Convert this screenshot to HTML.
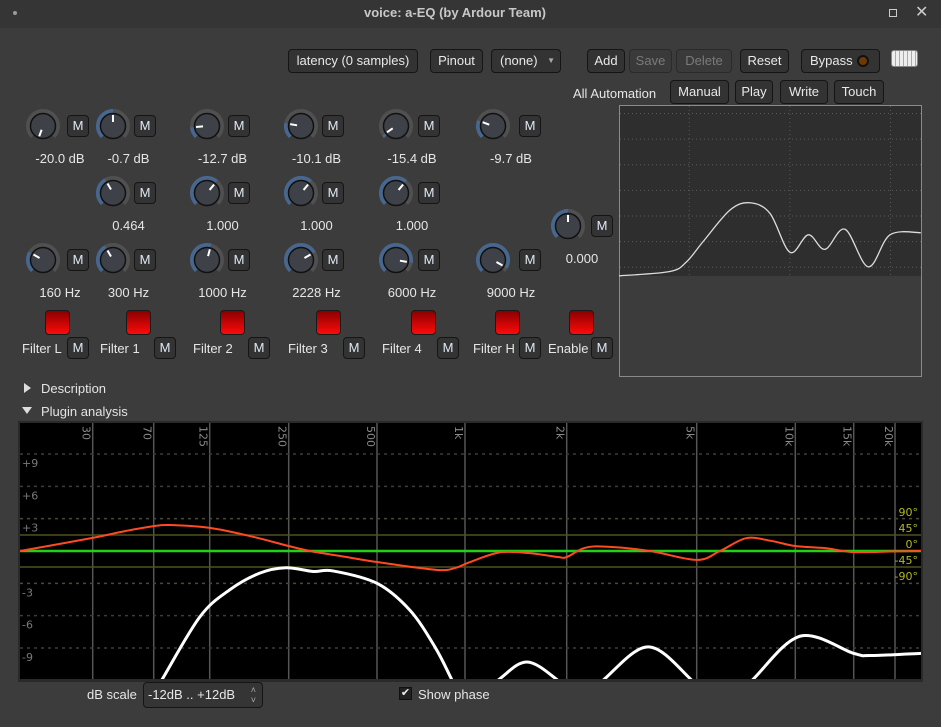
<!DOCTYPE html>
<html style="overflow:hidden"><head><meta charset="utf-8">
<style>
*{box-sizing:border-box}
html,body{overflow:hidden}
body{margin:0;width:941px;height:727px;background:#3c3c3c;font-family:"Liberation Sans","DejaVu Sans",sans-serif;font-size:13px;color:#e4e4e4;position:relative;overflow:hidden}
.abs{position:absolute}
.btn{position:absolute;background:#333;border:1px solid #151515;border-radius:4px;color:#e8e8e8;text-align:center;font-size:13px;line-height:22px;height:24px}
.btn.dis{color:#7a7a7a;border-color:#2a2a2a;background:#3a3a3a}
.m{position:absolute;width:22px;height:22px;background:#333;border:1px solid #151515;border-radius:4px;color:#dfe9f5;text-align:center;line-height:20px;font-size:13px}
.lbl{position:absolute;text-align:center;font-size:13px;line-height:16px;color:#e6e6e6;white-space:nowrap}
.red{position:absolute;width:25px;height:25px;border:1px solid #1a1a1a;border-radius:4px;background:linear-gradient(#8a0000,#ff0a0a)}
</style></head><body>
<div class="abs" style="left:0;top:0;width:941px;height:28px;background:#353535"></div>
<div class="abs" style="left:13px;top:11px;width:4px;height:4px;border-radius:2px;background:#999"></div>
<div class="abs" style="left:0;width:910px;top:5px;text-align:center;font-weight:bold;color:#c8c8c8;font-size:13px">voice: a-EQ (by Ardour Team)</div>
<div class="abs" style="left:889px;top:9px;width:8px;height:8px;border:1.5px solid #ccc"></div>
<div class="abs" style="left:915px;top:2px;font-size:16px;color:#ccc">✕</div>

<div class="btn" style="left:288px;top:49px;width:130px">latency (0 samples)</div>
<div class="btn" style="left:430px;top:49px;width:53px">Pinout</div>
<div class="btn" style="left:491px;top:49px;width:70px;text-align:left;padding-left:8px">(none)<span style="position:absolute;right:5px;top:0;font-size:8px;color:#aaa">▼</span></div>
<div class="btn" style="left:587px;top:49px;width:38px">Add</div>
<div class="btn dis" style="left:629px;top:49px;width:43px">Save</div>
<div class="btn dis" style="left:676px;top:49px;width:56px">Delete</div>
<div class="btn" style="left:740px;top:49px;width:49px">Reset</div>
<div class="btn" style="left:801px;top:49px;width:79px;text-align:left;padding-left:8px">Bypass<span style="position:absolute;left:55px;top:5px;width:12px;height:12px;border-radius:6px;background:#6a3a00;border:2px solid #111"></span></div>
<div class="abs" style="left:891px;top:50px;width:27px;height:17px;border-radius:3px;background:repeating-linear-gradient(90deg,#eee 0 3px,#aaa 3px 4px);border:1px solid #888"></div>
<div class="lbl" style="left:573px;top:86px">All Automation</div>
<div class="btn" style="left:670px;top:80px;width:59px">Manual</div>
<div class="btn" style="left:735px;top:80px;width:38px">Play</div>
<div class="btn" style="left:780px;top:80px;width:48px">Write</div>
<div class="btn" style="left:834px;top:80px;width:50px">Touch</div>

<div id="controls"></div>

<svg class="abs" style="left:619px;top:105px" width="303" height="272" id="small"></svg>

<div class="abs" style="left:24px;top:381px;line-height:16px"><span style="display:inline-block;width:0;height:0;border-left:7px solid #ddd;border-top:5px solid transparent;border-bottom:5px solid transparent;margin-right:10px;vertical-align:0"></span>Description</div>
<div class="abs" style="left:22px;top:404px;line-height:16px"><span style="display:inline-block;width:0;height:0;border-top:7px solid #ddd;border-left:5px solid transparent;border-right:5px solid transparent;margin-right:9px;vertical-align:2px"></span>Plugin analysis</div>

<svg class="abs" style="left:0;top:420px" width="941" height="262" id="big"></svg>

<div class="lbl" style="left:87px;top:687px">dB scale</div>
<div class="btn" style="left:143px;top:682px;width:120px;height:26px;line-height:24px;text-align:left;padding-left:4px;background:#353535;overflow:hidden">-12dB .. +12dB<span style="position:absolute;right:6px;top:0;font-size:9px;color:#aaa;line-height:10px;padding-top:2px">˄<br>˅</span></div>
<div class="abs" style="left:399px;top:687px;width:13px;height:13px;background:#222;border:1px solid #111;color:#eee;font-size:11px;line-height:11px;text-align:center">✔</div>
<div class="lbl" style="left:418px;top:687px">Show phase</div>

<script>
// ---- analysis chart data ----
const freqTicks = [30,70,125,250,500,1000,2000,5000,10000,15000,20000];
const freqTickLabels = ["30","70","125","250","500","1k","2k","5k","10k","15k","20k"];
const dbTicks = [9,6,3,-3,-6,-9];
const dbTickLabels = ["+9","+6","+3","-3","-6","-9"];
const phaseTicks = [90,45,0,-45,-90];
const phaseTickLabels = ["90°","45°","0°","-45°","-90°"];
const phaseFreq = [11,30,47,70,83,125,178,250,295,375,500,796,924,1035,1269,1556,1883,2000,2275,2675,3600,5000,5890,7075,8380,10000,12300,15000,20000,24000];
const phaseDeg  = [0,37,56,70,73,65,42,14,0,-14,-31,-53,-48,-31,-4,-6,-17,-17,9,12,0,-25,0,36,29,14,8,-3,-1,0];
const magFreq = [11,40,66,77,113,149,194,244,303,354,500,648,789,896,1000,1251,1523,1883,2197,2583,3548,4832,5890,7380,10350,15000,16900,24000];
const magDb   = [-40,-20,-14,-11.8,-6.1,-3.6,-2.05,-1.55,-1.9,-1.85,-3.0,-5.5,-8.9,-11.8,-14.5,-12,-10.3,-12,-14,-12,-8.9,-12,-15,-12,-7.9,-9.5,-9.7,-9.5];
// ---- preview chart data ----
const prevFreq = [20,64,94,137,254,401,634,1002,1524,2232,3527,6018,9885,20000];
const prevDb   = [-20,-19,-16.7,-12,-4.6,-2.9,-5.4,-14.5,-10.4,-13.8,-9.1,-17.9,-10.4,-9.9];

const NS="http://www.w3.org/2000/svg";
function mk(p,t,a){const e=document.createElementNS(NS,t);for(const k in a)e.setAttribute(k,a[k]);p.appendChild(e);return e;}

const fAnch=[[11,20],[30,92.7],[70,153.7],[125,209.7],[250,288.7],[500,377],[1000,465],[2000,566.7],[5000,696.7],[10000,795.3],[15000,853.7],[20000,895],[24000,921]];
function xF(f){for(let i=0;i<fAnch.length-1;i++){const a=fAnch[i],b=fAnch[i+1];if(f<=b[0]||i==fAnch.length-2){const t=Math.log(f/a[0])/Math.log(b[0]/a[0]);return a[1]+t*(b[1]-a[1]);}}}
const Y0=131;
function yDb(d){return Y0-d*32.33/3;}
function yPh(p){return Y0-p*16/45;}
function smooth(pts){let d="M"+pts[0][0]+","+pts[0][1];for(let i=0;i<pts.length-1;i++){const p0=pts[Math.max(0,i-1)],p1=pts[i],p2=pts[i+1],p3=pts[Math.min(pts.length-1,i+2)];const c1=[p1[0]+(p2[0]-p0[0])/6,p1[1]+(p2[1]-p0[1])/6],c2=[p2[0]-(p3[0]-p1[0])/6,p2[1]-(p3[1]-p1[1])/6];d+=" C"+c1.join(",")+" "+c2.join(",")+" "+p2.join(",");}return d;}

const big=document.getElementById('big');
mk(big,'rect',{x:18,y:1,width:905,height:261,fill:'#2a2a2a'});
const plot=mk(big,'rect',{x:20,y:3,width:901,height:256,fill:'#000'});


const defs=mk(big,'defs',{});const cp=mk(defs,'clipPath',{id:'clipA'});mk(cp,'rect',{x:20,y:3,width:901,height:256});
freqTicks.forEach((f,i)=>{const x=xF(f);
 const l=mk(big,'line',{x1:x,x2:x,y1:3,y2:259,stroke:'#555','stroke-width':1.5});
 
 
 const t=mk(big,'text',{x:0,y:0,transform:`translate(${x-10},6) rotate(90)`,fill:'#8a8a8a','font-size':11,'font-family':'DejaVu Sans, sans-serif'});t.textContent=freqTickLabels[i];
 
 });
dbTicks.forEach((d,i)=>{const y=yDb(d);
 const l=mk(big,'line',{x1:20,x2:921,y1:y,y2:y,stroke:(Math.abs(d)==3?'#4a4a32':'#3c3c3c'),'stroke-width':1.5,'stroke-dasharray':'3,4'});
 
 
 const t=mk(big,'text',{x:22,y:y+13,fill:'#7a7a7a','font-size':11,'font-family':'DejaVu Sans, sans-serif'});t.textContent=dbTickLabels[i];
 
 });
phaseTicks.forEach((p,i)=>{const y=yPh(p);
 if(Math.abs(p)==45){const l=mk(big,'line',{x1:20,x2:921,y1:y,y2:y,stroke:'#50501e','stroke-width':1.5});
  
  }
 const t=mk(big,'text',{x:918,y:y-3,fill:'#b0b828','font-size':11,'text-anchor':'end','font-family':'DejaVu Sans, sans-serif'});t.textContent=phaseTickLabels[i];
 
 });
const zl=mk(big,'line',{x1:20,x2:921,y1:Y0,y2:Y0,stroke:'#22d018','stroke-width':2.5});


const ph=mk(big,'path',{d:smooth(phaseFreq.map((f,i)=>[xF(f),yPh(phaseDeg[i])])),fill:'none',stroke:'#ff4a22','stroke-width':2,'clip-path':'url(#clipA)'});


const mg=mk(big,'path',{d:smooth(magFreq.map((f,i)=>[xF(f),yDb(magDb[i])])),fill:'none',stroke:'#fff','stroke-width':3,'clip-path':'url(#clipA)'});



const sm=document.getElementById('small');
mk(sm,'rect',{x:0.5,y:0.5,width:302,height:271,fill:'#3c3c3c',stroke:'#8a8a8a'});
mk(sm,'rect',{x:1,y:1,width:301,height:170,fill:'#2e2e2e'});
function sx(f){return 100.6*Math.log10(f/20);}
function sy(d){return 85.4-d*4.27;}
[100,1000,10000].forEach(f=>{const g=mk(sm,'line',{x1:sx(f),x2:sx(f),y1:1,y2:171,stroke:'#5a5a5a','stroke-dasharray':'1,3'});
 
 });
[18,12,6,0,-6,-12,-18].forEach(d=>{const g=mk(sm,'line',{x1:1,x2:302,y1:sy(d),y2:sy(d),stroke:'#5a5a5a','stroke-dasharray':'1,3'});
 
 });
const pc=mk(sm,'path',{d:smooth(prevFreq.map((f,i)=>[sx(f),sy(prevDb[i])])),fill:'none',stroke:'#ddd','stroke-width':1.3});



const C=document.getElementById('controls');
function knob(cx,cy,ang,name){
 const s=document.createElementNS(NS,'svg');s.setAttribute('width',36);s.setAttribute('height',36);
 s.setAttribute('style',`position:absolute;left:${cx-18}px;top:${cy-18}px`);
 
 
 const R=15;function pt(a,r){const t=(a-90)*Math.PI/180;return [18+r*Math.cos(t),18+r*Math.sin(t)];}
 const a0=pt(-135,R),a1=pt(135,R);
 mk(s,'path',{d:`M${a0} A${R},${R} 0 1 1 ${a1}`,fill:'none',stroke:'#505050','stroke-width':4});
 if(ang>-133){const b=pt(ang,R);mk(s,'path',{d:`M${a0} A${R},${R} 0 ${ang+135>180?1:0} 1 ${b}`,fill:'none',stroke:'#48678f','stroke-width':4});}
 mk(s,'circle',{cx:18,cy:18,r:12.5,fill:'#3e4248',stroke:'#111','stroke-width':1.5});
 const p1=pt(ang,4),p2=pt(ang,11);mk(s,'line',{x1:p1[0],y1:p1[1],x2:p2[0],y2:p2[1],stroke:'#fff','stroke-width':2});
 C.appendChild(s);}
function mbtn(x,y,name){const d=document.createElement('div');d.className='m';d.style.left=x+'px';d.style.top=y+'px';d.textContent='M';
 
 
 C.appendChild(d);}
function label(cx,y,t,name){const d=document.createElement('div');d.className='lbl';d.style.left=(cx-50)+'px';d.style.width='100px';d.style.top=y+'px';d.textContent=t;
 
 
 C.appendChild(d);}
const cols=[{k:43,m:67},{k:113,m:134},{k:207,m:228},{k:301,m:322},{k:396,m:418},{k:493,m:519}];
const gainT=["-20.0 dB","-0.7 dB","-12.7 dB","-10.1 dB","-15.4 dB","-9.7 dB"];const gainA=[-160,0,-95,-80,-125,-70];
const qT=[null,"0.464","1.000","1.000","1.000",null];const qA=[0,-30,40,40,40,0];
const fT=["160 Hz","300 Hz","1000 Hz","2228 Hz","6000 Hz","9000 Hz"];const fA=[-60,-30,15,60,100,120];
cols.forEach((c,i)=>{
 knob(c.k,126,gainA[i],'gain-knob');mbtn(c.m,115,'gain-automation-button');label((c.k+c.m+22)/2-6,151,gainT[i],'gain-value');
 if(qT[i]){knob(c.k,193,qA[i],'q-knob');mbtn(c.m,182,'q-automation-button');label((c.k+c.m+22)/2-6,218,qT[i],'q-value');}
 knob(c.k,260,fA[i],'freq-knob');mbtn(c.m,249,'freq-automation-button');label((c.k+c.m+22)/2-6,285,fT[i],'freq-value');
});
knob(568,226,0,'master-gain-knob');mbtn(591,215,'master-gain-automation-button');label(582,251,"0.000",'master-gain-value');
const reds=[45,126,220,316,411,495,569];
const fl=[["Filter L",22,67],["Filter 1",100,154],["Filter 2",193,248],["Filter 3",288,343],["Filter 4",382,437],["Filter H",473,519],["Enable",548,591]];
reds.forEach((x,i)=>{const d=document.createElement('div');d.className='red';d.style.left=x+'px';d.style.top='310px';
 
 
 C.appendChild(d);
 const l=document.createElement('div');l.className='lbl';l.style.left=fl[i][1]+'px';l.style.top='341px';l.textContent=fl[i][0];
 
 
 C.appendChild(l);
 mbtn(fl[i][2],337,'filter-automation-button');});
</script>
</body></html>
